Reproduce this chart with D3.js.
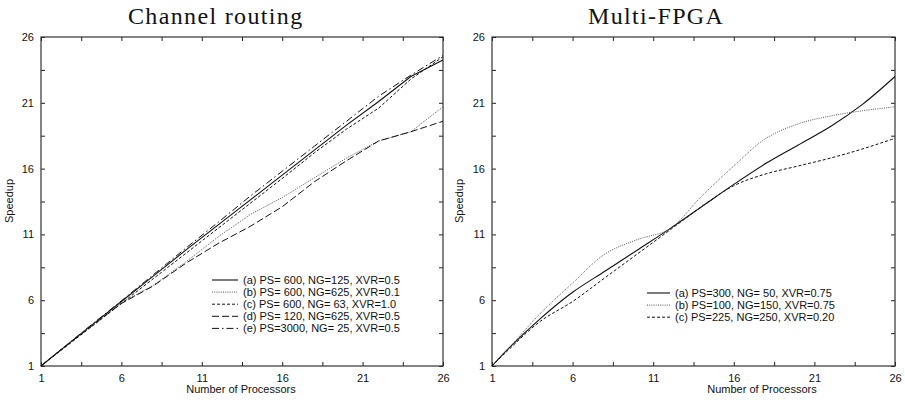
<!DOCTYPE html>
<html>
<head>
<meta charset="utf-8">
<script src="https://cdn.jsdelivr.net/npm/d3@7"></script>
<style>
  body { margin: 0; background: #fff; }
  svg { display: block; }
  text { white-space: pre; }
</style>
</head>
<body>
<svg id="chart"></svg>
<script>
(function () {
  'use strict';

  // processor counts shared by both panels
  var procs = [1, 2, 4, 6, 8, 10, 12, 14, 16, 18, 20, 22, 24, 26];
  var tickVals = [1, 3.5, 6, 8.5, 11, 13.5, 16, 18.5, 21, 23.5, 26];
  var tickLabels = [1, 6, 11, 16, 21, 26];

  // Channel routing speedups
  var chanA = [1, 2, 3.95, 5.9, 7.85, 9.8, 11.7, 13.6, 15.5, 17.4, 19.3, 21.1, 23.0, 24.25];
  var chanB = [1, 2, 3.95, 5.8, 7.15, 8.9, 10.8, 12.5, 13.8, 15.3, 16.8, 18.1, 18.8, 20.7];
  var chanC = [1, 1.95, 3.85, 5.75, 7.65, 9.55, 11.45, 13.35, 15.25, 17.2, 19.0, 20.6, 22.8, 24.5];
  var chanD = [1, 2, 3.9, 5.75, 7.1, 8.8, 10.3, 11.6, 13.1, 15.0, 16.6, 18.1, 18.8, 19.6];
  var chanE = [1, 2, 4, 5.95, 7.95, 9.95, 11.9, 13.9, 15.8, 17.7, 19.6, 21.5, 23.1, 24.6];
  var chanNames = [
    '(a) PS= 600, NG=125, XVR=0.5',
    '(b) PS= 600, NG=625, XVR=0.1',
    '(c) PS= 600, NG= 63, XVR=1.0',
    '(d) PS= 120, NG=625, XVR=0.5',
    '(e) PS=3000, NG= 25, XVR=0.5'
  ];

  // Multi-FPGA speedups
  var fpgaA = [1, 2.3, 4.6, 6.6, 8.2, 9.8, 11.4, 13.1, 14.8, 16.4, 17.8, 19.2, 20.9, 23.0];
  var fpgaB = [1, 2.3, 5.0, 7.3, 9.5, 10.6, 11.4, 13.9, 16.2, 18.3, 19.4, 20.0, 20.4, 20.7];
  var fpgaC = [1, 2.2, 4.4, 5.9, 7.7, 9.5, 11.3, 13.1, 14.7, 15.6, 16.2, 16.8, 17.5, 18.3];
  var fpgaNames = [
    '(a) PS=300, NG= 50, XVR=0.75',
    '(b) PS=100, NG=150, XVR=0.75',
    '(c) PS=225, NG=250, XVR=0.20'
  ];

  // line styles: solid, dotted, short dash, long dash, dash-dot
  var styles = [
    { dash: null, color: '#111', width: 1.1 },
    { dash: '1,1.2', color: '#555', width: 1 },
    { dash: '3,2', color: '#111', width: 1 },
    { dash: '7,3', color: '#111', width: 1 },
    { dash: '7,3,1.5,3', color: '#111', width: 1 }
  ];

  var svg = d3.select('#chart').attr('width', 905).attr('height', 403);
  var font = '"Liberation Sans", Arial, sans-serif';
  var serif = '"Liberation Serif", "DejaVu Serif", serif';

  function panel (p) {
    var x = d3.scaleLinear().domain([1, 26]).range([p.left, p.right]);
    var y = d3.scaleLinear().domain([1, 26]).range([366, 37]);
    var g = svg.append('g');

    function fmt (d) { return tickLabels.indexOf(d) >= 0 ? d : ''; }

    // ticks on all four sides, pointing inward
    g.append('g').attr('transform', 'translate(0,366)')
      .call(d3.axisBottom(x).tickValues(tickVals).tickFormat(fmt).tickSize(-4).tickPadding(8));
    g.append('g').attr('transform', 'translate(0,37)')
      .call(d3.axisTop(x).tickValues(tickVals).tickFormat('').tickSize(-4));
    g.append('g').attr('transform', 'translate(' + p.left + ',0)')
      .call(d3.axisLeft(y).tickValues(tickVals).tickFormat(fmt).tickSize(-4).tickPadding(7));
    g.append('g').attr('transform', 'translate(' + p.right + ',0)')
      .call(d3.axisRight(y).tickValues(tickVals).tickFormat('').tickSize(-4));

    g.selectAll('.domain').remove();
    g.selectAll('.tick line').attr('stroke', '#222');
    g.selectAll('.tick text').attr('font-family', font).attr('font-size', 11).attr('fill', '#111');

    g.append('rect')
      .attr('x', p.left).attr('y', 37)
      .attr('width', p.right - p.left).attr('height', 329)
      .attr('fill', 'none').attr('stroke', '#333').attr('stroke-width', 1.2);

    var line = d3.line()
      .x(function (d, i) { return x(procs[i]); })
      .y(function (d) { return y(d); })
      .curve(p.curve);

    p.series.forEach(function (s, i) {
      g.append('path')
        .datum(s)
        .attr('d', line)
        .attr('fill', 'none')
        .attr('stroke', styles[p.styleIdx[i]].color)
        .attr('stroke-width', styles[p.styleIdx[i]].width)
        .attr('stroke-dasharray', styles[p.styleIdx[i]].dash);
    });

    // legend
    var leg = g.append('g');
    p.names.forEach(function (n, i) {
      var yy = p.legY + i * 12.1;
      var st = styles[p.styleIdx[i]];
      leg.append('line')
        .attr('x1', p.legX).attr('x2', p.legX + p.legLen)
        .attr('y1', yy).attr('y2', yy)
        .attr('stroke', st.color).attr('stroke-width', st.width)
        .attr('stroke-dasharray', st.dash);
      leg.append('text')
        .attr('x', p.legX + p.legLen + 5).attr('y', yy + 4)
        .attr('font-family', font).attr('font-size', 11).attr('fill', '#111')
        .text(n);
    });

    // titles and axis labels
    g.append('text')
      .attr('x', p.titleX).attr('y', 24)
      .attr('font-family', serif).attr('font-size', 24)
      .attr('letter-spacing', 1.35).attr('fill', '#111')
      .text(p.title);
    g.append('text')
      .attr('x', p.xLabelX).attr('y', 393)
      .attr('text-anchor', 'middle')
      .attr('font-family', font).attr('font-size', 11).attr('fill', '#111')
      .text('Number of Processors');
    g.append('text')
      .attr('transform', 'translate(' + p.yLabelX + ',201) rotate(-90)')
      .attr('text-anchor', 'middle')
      .attr('font-family', font).attr('font-size', 11).attr('fill', '#111')
      .text('Speedup');
  }

  panel({
    left: 41, right: 443,
    series: [chanA, chanB, chanC, chanD, chanE],
    styleIdx: [0, 1, 2, 3, 4],
    names: chanNames,
    curve: d3.curveLinear,
    legX: 212, legLen: 26, legY: 280,
    title: 'Channel routing', titleX: 128,
    xLabelX: 241, yLabelX: 13
  });

  panel({
    left: 492, right: 895,
    series: [fpgaA, fpgaB, fpgaC],
    styleIdx: [0, 1, 2],
    names: fpgaNames,
    curve: d3.curveCatmullRom,
    legX: 647, legLen: 23, legY: 293,
    title: 'Multi-FPGA', titleX: 588,
    xLabelX: 762, yLabelX: 463
  });
} ());
</script>
</body>
</html>
